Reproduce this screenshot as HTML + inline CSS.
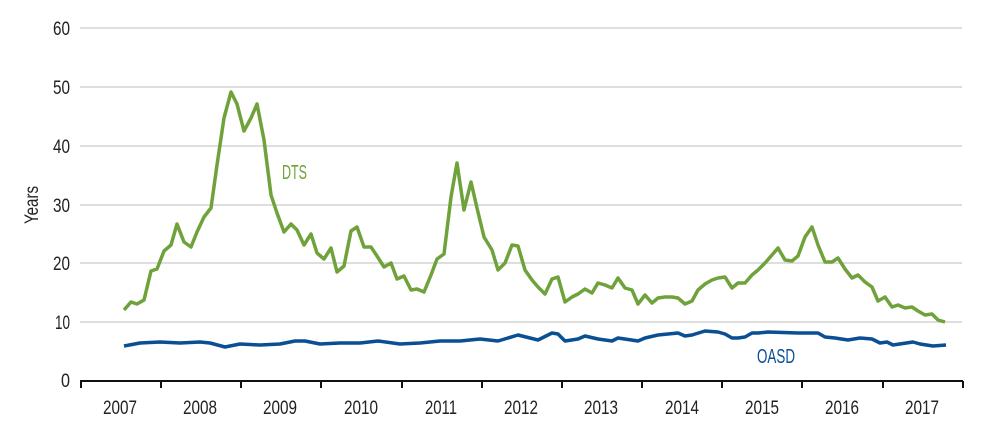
<!DOCTYPE html>
<html><head><style>
html,body{margin:0;padding:0;background:#fff;}
svg{display:block;}
text{font-family:"Liberation Sans Narrow","Liberation Sans",sans-serif;font-size:19px;fill:#222;}
</style></head><body>
<svg width="1000" height="434" viewBox="0 0 1000 434" xmlns="http://www.w3.org/2000/svg">
<g stroke="#d4d4d4" stroke-width="1.5">
<line x1="80" y1="28" x2="962" y2="28"/><line x1="80" y1="87" x2="962" y2="87"/>
<line x1="80" y1="146" x2="962" y2="146"/><line x1="80" y1="205" x2="962" y2="205"/>
<line x1="80" y1="263" x2="962" y2="263"/><line x1="80" y1="322" x2="962" y2="322"/>
</g>
<g text-anchor="end">
<text x="70" y="35" textLength="17" lengthAdjust="spacingAndGlyphs">60</text><text x="70" y="94" textLength="17" lengthAdjust="spacingAndGlyphs">50</text><text x="70" y="153" textLength="17" lengthAdjust="spacingAndGlyphs">40</text>
<text x="70" y="212" textLength="17" lengthAdjust="spacingAndGlyphs">30</text><text x="70" y="270" textLength="17" lengthAdjust="spacingAndGlyphs">20</text><text x="70" y="329" textLength="15" lengthAdjust="spacingAndGlyphs">10</text><text x="70" y="387" textLength="9" lengthAdjust="spacingAndGlyphs">0</text>
</g>
<text transform="translate(38,205) rotate(-90)" text-anchor="middle" textLength="38" lengthAdjust="spacingAndGlyphs">Years</text>
<polyline fill="none" stroke="#6fa23a" stroke-width="3.5" stroke-linejoin="round" points="124,310 131,302 137,304 144,300 151,271 157,269 164,251 171,245 177,224 184,242 191,247 197,232 204,217 211,208 217,165 224,118 231,92 237,104 244,131 251,118 257,104 264,140 271,195 277,213 284,232 291,224 297,230 304,245 311,234 317,253 324,259 331,248 337,272 344,266 351,231 357,227 364,247 371,247 377,256 384,267 391,263 397,279 404,276 411,290 417,289 424,292 431,275 437,259 444,254 451,197 457,163 464,210 471,182 477,208 484,237 492,250 498,270 505,263 512,245 518,246 525,270 532,280 538,287 545,294 552,279 558,277 565,302 572,297 578,294 585,289 592,293 598,283 605,285 612,288 618,278 625,288 632,290 638,304 645,295 652,303 658,298 665,297 672,297 678,298 685,304 692,301 698,290 705,284 712,280 718,278 725,277 732,288 738,283 745,283 752,275 758,270 765,263 772,255 778,248 785,260 792,261 798,256 805,237 812,227 818,245 825,262 832,262 838,258 845,269 852,278 858,275 865,282 872,287 878,301 885,297 892,307 898,305 905,308 912,307 918,311 925,315 932,314 938,320 945,322"/>
<polyline fill="none" stroke="#0a4f94" stroke-width="3.5" stroke-linejoin="round" points="124,346 140,343 160,342 180,343 200,342 210,343 225,347 240,344 260,345 280,344 295,341 305,341 320,344 340,343 360,343 378,341 400,344 420,343 440,341 460,341 480,339 498,341 518,335 538,340 552,333 558,334 565,341 578,339 585,336 598,339 612,341 618,338 638,341 645,338 658,335 678,333 685,336 692,335 705,331 718,332 725,334 732,338 738,338 745,337 752,333 758,333 768,332 798,333 818,333 825,337 835,338 848,340 860,338 872,339 880,343 887,342 893,345 913,342 920,344 933,346 946,345"/>
<text x="282" y="179" textLength="25" lengthAdjust="spacingAndGlyphs" style="fill:#6fa23a;font-size:20px">DTS</text>
<text x="757" y="363" textLength="38" lengthAdjust="spacingAndGlyphs" style="fill:#0a4f94;font-size:20px">OASD</text>
<line x1="80" y1="381" x2="963" y2="381" stroke="#111" stroke-width="2"/>
<g stroke="#111" stroke-width="2">
<line x1="81" y1="381" x2="81" y2="388"/><line x1="161" y1="381" x2="161" y2="388"/>
<line x1="241" y1="381" x2="241" y2="388"/><line x1="321" y1="381" x2="321" y2="388"/>
<line x1="402" y1="381" x2="402" y2="388"/><line x1="482" y1="381" x2="482" y2="388"/>
<line x1="562" y1="381" x2="562" y2="388"/><line x1="642" y1="381" x2="642" y2="388"/>
<line x1="722" y1="381" x2="722" y2="388"/><line x1="802" y1="381" x2="802" y2="388"/>
<line x1="883" y1="381" x2="883" y2="388"/><line x1="963" y1="381" x2="963" y2="388"/>
</g>
<g text-anchor="middle">
<text x="120" y="414" textLength="34" lengthAdjust="spacingAndGlyphs">2007</text><text x="200" y="414" textLength="34" lengthAdjust="spacingAndGlyphs">2008</text><text x="280" y="414" textLength="34" lengthAdjust="spacingAndGlyphs">2009</text>
<text x="361" y="414" textLength="34" lengthAdjust="spacingAndGlyphs">2010</text><text x="441" y="414" textLength="32" lengthAdjust="spacingAndGlyphs">2011</text><text x="521" y="414" textLength="34" lengthAdjust="spacingAndGlyphs">2012</text>
<text x="601" y="414" textLength="34" lengthAdjust="spacingAndGlyphs">2013</text><text x="682" y="414" textLength="34" lengthAdjust="spacingAndGlyphs">2014</text><text x="762" y="414" textLength="34" lengthAdjust="spacingAndGlyphs">2015</text>
<text x="842" y="414" textLength="34" lengthAdjust="spacingAndGlyphs">2016</text><text x="922" y="414" textLength="34" lengthAdjust="spacingAndGlyphs">2017</text>
</g>
</svg>
</body></html>
